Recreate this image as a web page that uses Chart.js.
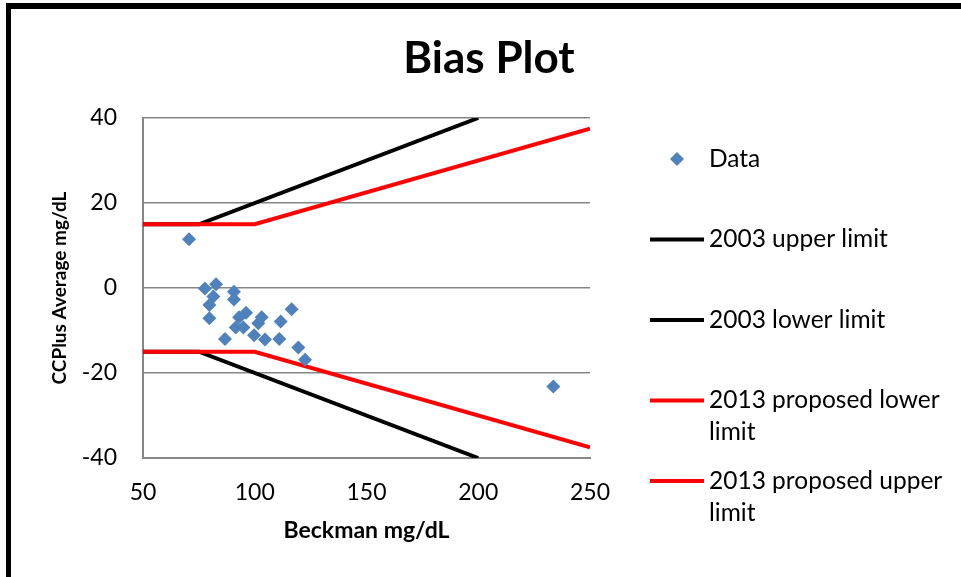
<!DOCTYPE html>
<html>
<head>
<meta charset="utf-8">
<title>Bias Plot</title>
<script src="https://cdn.jsdelivr.net/npm/chart.js@4.4.1/dist/chart.umd.min.js"></script>
<style>
  html, body { margin: 0; padding: 0; background: #fff; }
  canvas { display: block; }
</style>
</head>
<body>
<canvas id="biasChart" width="961" height="577"></canvas>
<script>
// Beckman result vs. CCPlus average bias, mg/dL
const beckman = [70.6, 77.7, 82.7, 81.5, 79.7, 79.7, 90.7, 90.7, 86.7, 96.1, 93.0,
  91.5, 94.9, 99.7, 103.1, 101.6, 104.6, 111.0, 111.6, 116.5, 119.5, 122.5, 233.6];
const ccplusBias = [11.5, -0.1, 0.9, -2.0, -4.0, -7.1, -0.9, -2.7, -12.0, -5.8, -6.9,
  -9.3, -9.3, -11.1, -6.9, -8.3, -12.1, -12.0, -7.9, -5.0, -14.0, -16.9, -23.2];

// 2003 limits: +/-15 mg/dL below 75, +/-20 % above
const limit2003X = [50, 75, 200];
const upper2003 = [15, 15, 40];
const lower2003 = [-15, -15, -40];
// 2013 proposed limits: +/-15 mg/dL below 100, +/-15 % above
const limit2013X = [50, 100, 250];
const upper2013 = [15, 15, 37.5];
const lower2013 = [-15, -15, -37.5];

const xTicks = [50, 100, 150, 200, 250];
const yTicks = [-40, -20, 0, 20, 40];

const FONT = 'Lato, "Open Sans", sans-serif';
const GRID = '#868686';

function toPoints(xs, ys) {
  return xs.map((x, i) => ({ x: x, y: ys[i] }));
}

function limitLine(label, xs, ys, color, order) {
  return {
    label: label,
    data: toPoints(xs, ys),
    showLine: true,
    borderColor: color,
    backgroundColor: color,
    borderWidth: 4,
    pointRadius: 0,
    tension: 0,
    clip: 0,
    order: order
  };
}

// frame and white page behind the chart
const framePlugin = {
  id: 'frame',
  beforeDraw(chart) {
    const ctx = chart.ctx;
    ctx.save();
    ctx.fillStyle = '#fff';
    ctx.fillRect(0, 0, chart.width, chart.height);
    ctx.fillStyle = '#000';
    ctx.fillRect(6, 3, chart.width - 6, 6);
    ctx.fillRect(6, 3, 5, chart.height - 3);
    ctx.restore();
  }
};

// title plus the legend on the right, with wrapped labels
const sideLegend = {
  id: 'sideLegend',
  afterDraw(chart) {
    const ctx = chart.ctx;
    ctx.save();
    ctx.fillStyle = '#000';
    ctx.textAlign = 'center';
    ctx.textBaseline = 'alphabetic';
    ctx.font = 'bold 44px ' + FONT;
    ctx.fillText('Bias Plot', 489, 73);

    ctx.font = '24.5px ' + FONT;
    ctx.textAlign = 'left';
    ctx.textBaseline = 'middle';
    const textX = 709, maxW = 245, lineH = 32;
    let y = 159;
    chart.data.datasets.forEach(ds => {
      if (ds.showLine) {
        ctx.strokeStyle = ds.borderColor;
        ctx.lineWidth = 4;
        ctx.beginPath();
        ctx.moveTo(650, y);
        ctx.lineTo(704, y);
        ctx.stroke();
      } else {
        ctx.fillStyle = ds.backgroundColor;
        ctx.beginPath();
        ctx.moveTo(677, y - 7);
        ctx.lineTo(684, y);
        ctx.lineTo(677, y + 7);
        ctx.lineTo(670, y);
        ctx.closePath();
        ctx.fill();
      }
      // simple word wrap
      const words = ds.label.split(' ');
      const lines = [];
      let cur = '';
      words.forEach(w => {
        const test = cur ? cur + ' ' + w : w;
        if (cur && ctx.measureText(test).width > maxW) {
          lines.push(cur);
          cur = w;
        } else {
          cur = test;
        }
      });
      lines.push(cur);
      ctx.fillStyle = '#000';
      lines.forEach((ln, i) => ctx.fillText(ln, textX, y + i * lineH));
      y += 80.5;
    });
    ctx.restore();
  }
};

new Chart(document.getElementById('biasChart'), {
  type: 'scatter',
  data: {
    datasets: [
      {
        label: 'Data',
        data: toPoints(beckman, ccplusBias),
        pointStyle: 'rectRot',
        pointRadius: 7,
        pointHoverRadius: 7,
        backgroundColor: '#4F81BD',
        borderColor: '#4F81BD',
        borderWidth: 0,
        order: 0
      },
      limitLine('2003 upper limit', limit2003X, upper2003, '#000000', 2),
      limitLine('2003 lower limit', limit2003X, lower2003, '#000000', 2),
      limitLine('2013 proposed lower limit', limit2013X, lower2013, '#FF0000', 1),
      limitLine('2013 proposed upper limit', limit2013X, upper2013, '#FF0000', 1)
    ]
  },
  options: {
    responsive: false,
    animation: false,
    devicePixelRatio: 1,
    layout: { padding: { left: 48, right: 371, top: 118, bottom: 33 } },
    plugins: {
      legend: { display: false },
      tooltip: { enabled: false },
      title: { display: false }
    },
    scales: {
      x: {
        type: 'linear',
        min: xTicks[0],
        max: xTicks[xTicks.length - 1],
        afterFit(scale) { scale.height = 86; },
        ticks: {
          stepSize: xTicks[1] - xTicks[0],
          padding: 21,
          color: '#000',
          font: { family: FONT, size: 23 }
        },
        grid: { display: false, drawTicks: false },
        border: { display: true, color: GRID, width: 2 },
        title: {
          display: true,
          text: 'Beckman mg/dL',
          color: '#000',
          padding: 0,
          font: { family: FONT, size: 23, weight: 'bold' }
        }
      },
      y: {
        type: 'linear',
        min: yTicks[0],
        max: yTicks[yTicks.length - 1],
        afterFit(scale) { scale.width = 95; },
        ticks: {
          stepSize: yTicks[1] - yTicks[0],
          padding: 26,
          color: '#000',
          font: { family: FONT, size: 23 }
        },
        grid: { color: GRID, lineWidth: 1.5, drawTicks: false },
        border: { display: true, color: GRID, width: 2 },
        title: {
          display: true,
          text: 'CCPlus Average mg/dL',
          color: '#000',
          padding: 0,
          font: { family: FONT, size: 19, weight: 'bold' }
        }
      }
    }
  },
  plugins: [framePlugin, sideLegend]
});
</script>
</body>
</html>
